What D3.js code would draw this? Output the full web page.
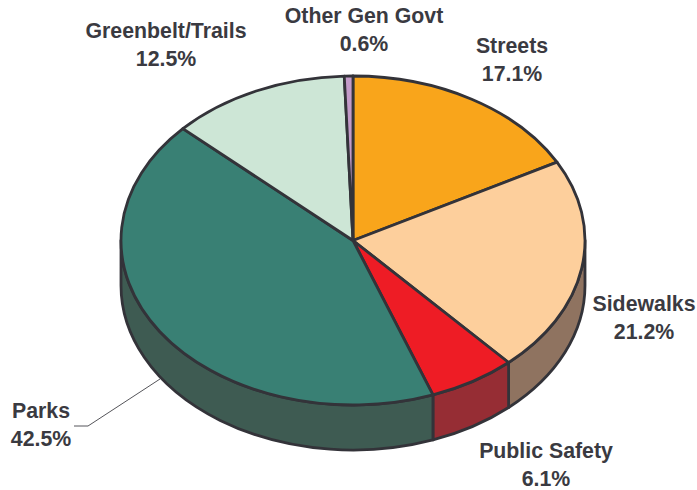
<!DOCTYPE html>
<html><head><meta charset="utf-8">
<script src="https://cdnjs.cloudflare.com/ajax/libs/d3/7.8.5/d3.min.js"></script>
<style>html,body{margin:0;padding:0;background:#fff}svg{display:block}text{font-family:"Liberation Sans",Arial,sans-serif;font-weight:700;font-size:21.3px;fill:#3a3a41;text-anchor:middle}</style>
</head><body><svg id="c" width="697" height="490"></svg>
<script>
const categories=["Streets","Sidewalks","Public Safety","Parks","Greenbelt/Trails","Other Gen Govt"];
const values=[17.1,21.2,6.1,42.5,12.5,0.6];
const topColors=["#F9A51B","#FDCF9C","#EE1C25","#398074","#CDE6D6","#C39BC9"];
const sideColors=["#A87016","#8F7360","#962D34","#3E5B52","#8A9B90","#836887"];
const labelCx=[512,644,546,41,166,364];
const labelY=[53,311,458,418,38,23];
const leader=[[160,379],[88,426],[74,426]];
const cx=353,cy=240.5,rx=232,ry=164.5,depth=45,ink="#333339",sw=2.8;

const svg=d3.select("#c");
const slices=d3.pie().sort(null).value(d=>d)(values).map((s,i)=>({...s,i}));
const px=d3.scaleLinear().domain([-1,1]).range([cx-rx,cx+rx]);
const py=d3.scaleLinear().domain([-1,1]).range([cy-ry,cy+ry]);
const pt=(a,dy=0)=>[px(Math.sin(a)),py(-Math.cos(a))+dy];
const arcTo=(a0,a1,sweep,dy=0)=>{const p=pt(a1,dy);return `A${rx},${ry} 0 ${Math.abs(a1-a0)>Math.PI?1:0} ${sweep} ${p[0]},${p[1]}`};

// side walls: only the front half of the rim is visible
const walls=slices.map(s=>({i:s.i,a0:Math.max(s.startAngle,Math.PI/2),a1:Math.min(s.endAngle,Math.PI*1.5)})).filter(w=>w.a1>w.a0);
svg.append("g").selectAll("path").data(walls).join("path")
 .attr("d",w=>`M${pt(w.a0)} ${arcTo(w.a0,w.a1,1)} L${pt(w.a1,depth)} ${arcTo(w.a1,w.a0,0,depth)} Z`)
 .attr("fill",w=>sideColors[w.i]).attr("stroke",ink).attr("stroke-width",sw).attr("stroke-linejoin","round");

// top face
svg.append("g").selectAll("path").data(slices).join("path")
 .attr("d",s=>`M${cx},${cy} L${pt(s.startAngle)} ${arcTo(s.startAngle,s.endAngle,1)} Z`)
 .attr("fill",s=>topColors[s.i]).attr("stroke",ink).attr("stroke-width",sw).attr("stroke-linejoin","round");

svg.append("path").attr("d",d3.line()(leader)).attr("fill","none").attr("stroke","#55555a").attr("stroke-width",1);

const g=svg.append("g").selectAll("g").data(categories).join("g");
g.append("text").attr("x",(d,i)=>labelCx[i]).attr("y",(d,i)=>labelY[i]).text(d=>d);
g.append("text").attr("x",(d,i)=>labelCx[i]).attr("y",(d,i)=>labelY[i]+28).text((d,i)=>d3.format(".1f")(values[i])+"%");
</script></body></html>
